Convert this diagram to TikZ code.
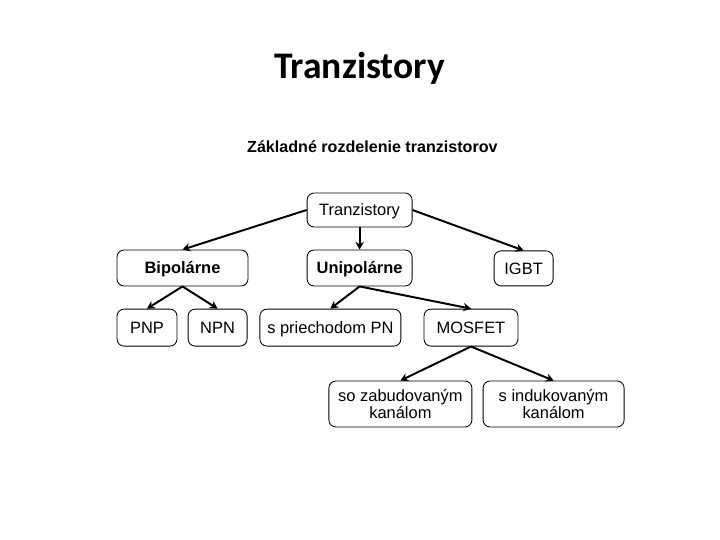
\documentclass[tikz,border=0pt]{standalone}
\usepackage{fontspec}
\setmainfont{Liberation Sans}
\newfontfamily\titlefont{Carlito}
\usetikzlibrary{arrows.meta}

\begin{document}
\begin{tikzpicture}[>={Stealth[length=5.5pt,width=6pt]},
 box/.style={draw,rounded corners=5pt,align=center,line width=0.6pt,
 inner sep=0pt,minimum height=0.9cm,text height=8.4pt,text depth=0pt,
 font=\fontsize{11.7}{12.5}\selectfont},
 twoline/.style={box,text height=,text depth=,minimum height=1.15cm},
 link/.style={->,line width=1.4pt}]
\useasboundingbox (0,0) rectangle (18,-13.5);
\node[anchor=base,font=\titlefont\bfseries\fontsize{26.7}{30}\selectfont]
 (title) at (8.99,-1.95) {Tranzistory};
\node[anchor=base,font=\bfseries\fontsize{11.45}{13}\selectfont]
 (subtitle) at (9.31,-3.8) {Základné rozdelenie tranzistorov};
\node[box,minimum width=2.625cm,minimum height=0.85cm] (tr) at (8.99,-5.25)
 {Tranzistory};
\node[box,minimum width=3.275cm,font=\bfseries\fontsize{11.7}{12.5}\selectfont]
 (bip) at (4.5625,-6.7) {Bipolárne};
\node[box,minimum width=2.625cm,font=\bfseries\fontsize{11.7}{12.5}\selectfont]
 (uni) at (8.99,-6.7) {Unipolárne};
\node[box,minimum width=1.475cm,minimum height=0.875cm] (igbt) at (13.09,-6.71)
 {IGBT};
\node[box,minimum width=1.5cm,minimum height=0.925cm] (pnp) at (3.675,-8.19)
 {PNP};
\node[box,minimum width=1.475cm,minimum height=0.925cm] (npn) at (5.44,-8.19)
 {NPN};
\node[box,minimum width=3.525cm,minimum height=0.925cm] (pn) at (8.26,-8.19)
 {s priechodom PN};
\node[box,minimum width=2.35cm,minimum height=0.925cm] (mosfet) at (11.775,-8.19)
 {MOSFET};
\node[twoline,minimum width=3.575cm] (zab) at (10.01,-10.1)
 {so zabudovaným\\kanálom};
\node[twoline,minimum width=3.525cm] (ind) at (13.84,-10.1)
 {s indukovaným\\kanálom};
\draw[link] (tr.west) -- (bip.north);
\draw[link] (tr.south) -- (uni.north);
\draw[link] (tr.east) -- (igbt.north);
\draw[link] (bip.south) -- (pnp.north);
\draw[link] (bip.south) -- (npn.north);
\draw[link] (uni.south) -- (pn.north);
\draw[link] (uni.south) -- (mosfet.north);
\draw[link] (mosfet.south) -- (zab.north);
\draw[link] (mosfet.south) -- (ind.north);
\end{tikzpicture}
\end{document}
